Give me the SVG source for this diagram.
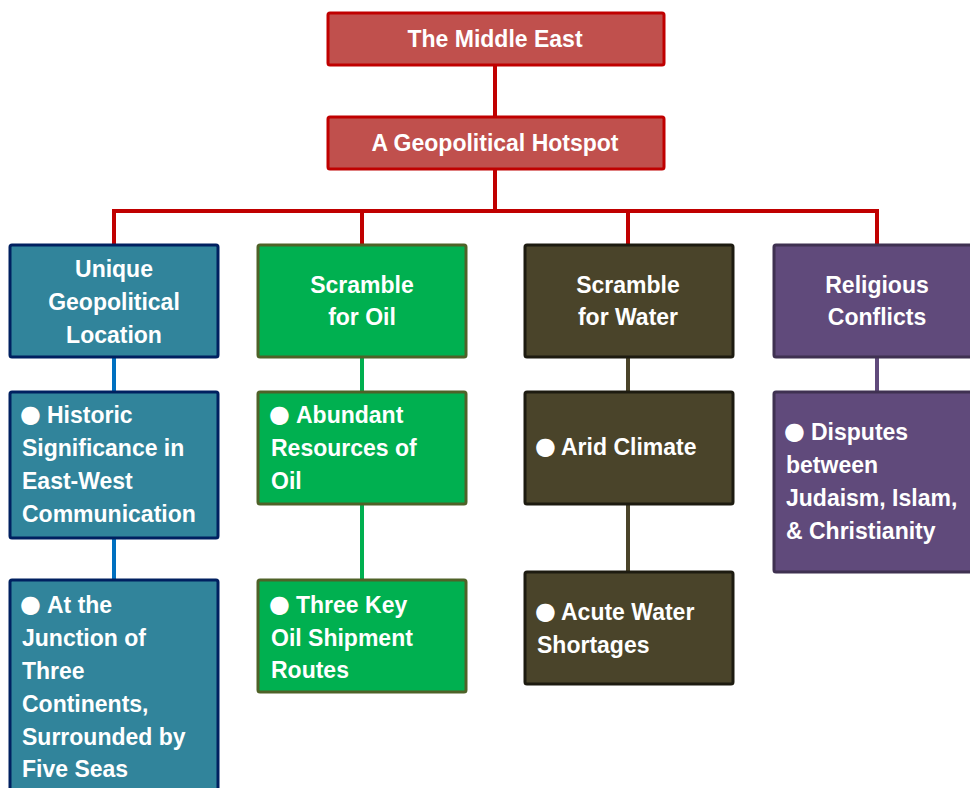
<svg xmlns="http://www.w3.org/2000/svg" width="970" height="788" viewBox="0 0 970 788">
<style>
text{font-family:"Liberation Sans",Arial,sans-serif;font-weight:bold;font-size:23px;fill:#fff}
.c{text-anchor:middle}
.b{font-family:"DejaVu Sans",sans-serif;font-size:24px}
.red{fill:#C0504D;stroke:#C00000;stroke-width:3}
.teal{fill:#31849B;stroke:#002060;stroke-width:3}
.grn{fill:#00B050;stroke:#4F6228;stroke-width:3}
.brn{fill:#4A442A;stroke:#1D1B10;stroke-width:3}
.pur{fill:#604A7B;stroke:#3F3151;stroke-width:3}
.l{fill:none;stroke-width:4}
</style>
<rect width="970" height="788" fill="#fff"/>
<g id="connectors">
<path class="l" stroke="#C00000" d="M495 65V117M495 169V211M114 211H877M114 209V245M362 209V245M628 209V245M877 209V245"/>
<path class="l" stroke="#0070C0" d="M114 357V392M114 538V580"/>
<path class="l" stroke="#00B050" d="M362 357V392M362 504V580"/>
<path class="l" stroke="#4A442A" d="M628 357V392M628 504V572"/>
<path class="l" stroke="#604A7B" d="M877 357V392"/>
</g>
<g id="middle-east"><rect class="red" x="328" y="13" width="336" height="52" rx="2"/><text class="c" x="495" y="47">The Middle East</text></g>
<g id="hotspot"><rect class="red" x="328" y="117" width="336" height="52" rx="2"/><text class="c" x="495" y="151">A Geopolitical Hotspot</text></g>
<g id="location"><rect class="teal" x="10" y="245" width="208" height="112" rx="2"/><text class="c" x="114" y="277">Unique<tspan x="114" dy="33">Geopolitical</tspan><tspan x="114" dy="33">Location</tspan></text></g>
<g id="oil"><rect class="grn" x="258" y="245" width="208" height="112" rx="2"/><text class="c" x="362" y="293">Scramble<tspan x="362" dy="32">for Oil</tspan></text></g>
<g id="water"><rect class="brn" x="525" y="245" width="208" height="112" rx="2"/><text class="c" x="628" y="293">Scramble<tspan x="628" dy="32">for Water</tspan></text></g>
<g id="religion"><rect class="pur" x="774" y="245" width="208" height="112" rx="2"/><text class="c" x="877" y="293">Religious<tspan x="877" dy="32">Conflicts</tspan></text></g>
<g id="historic"><rect class="teal" x="10" y="392" width="208" height="146" rx="2"/><text x="20" y="422"><tspan class="b">●</tspan><tspan x="47" y="423">Historic</tspan><tspan x="22" dy="33">Significance in</tspan><tspan x="22" dy="33">East-West</tspan><tspan x="22" dy="33">Communication</tspan></text></g>
<g id="junction"><rect class="teal" x="10" y="580" width="208" height="222" rx="2"/><text x="20" y="612"><tspan class="b">●</tspan><tspan x="47" y="613">At the</tspan><tspan x="22" dy="33">Junction of</tspan><tspan x="22" dy="33">Three</tspan><tspan x="22" dy="33">Continents,</tspan><tspan x="22" dy="33">Surrounded by</tspan><tspan x="22" dy="32">Five Seas</tspan></text></g>
<g id="abundant"><rect class="grn" x="258" y="392" width="208" height="112" rx="2"/><text x="269" y="422"><tspan class="b">●</tspan><tspan x="296" y="423">Abundant</tspan><tspan x="271" dy="33">Resources of</tspan><tspan x="271" dy="33">Oil</tspan></text></g>
<g id="routes"><rect class="grn" x="258" y="580" width="208" height="112" rx="2"/><text x="269" y="612"><tspan class="b">●</tspan><tspan x="296" y="613">Three Key</tspan><tspan x="271" dy="33">Oil Shipment</tspan><tspan x="271" dy="32">Routes</tspan></text></g>
<g id="arid"><rect class="brn" x="525" y="392" width="208" height="112" rx="2"/><text x="535" y="454"><tspan class="b">●</tspan><tspan x="561" y="455">Arid Climate</tspan></text></g>
<g id="shortages"><rect class="brn" x="525" y="572" width="208" height="112" rx="2"/><text x="535" y="619"><tspan class="b">●</tspan><tspan x="561" y="620">Acute Water</tspan><tspan x="537" dy="33">Shortages</tspan></text></g>
<g id="disputes"><rect class="pur" x="774" y="392" width="208" height="180" rx="2"/><text x="784" y="439"><tspan class="b">●</tspan><tspan x="811" y="440">Disputes</tspan><tspan x="786" dy="33">between</tspan><tspan x="786" dy="33">Judaism, Islam,</tspan><tspan x="786" dy="33">&amp; Christianity</tspan></text></g>
</svg>
